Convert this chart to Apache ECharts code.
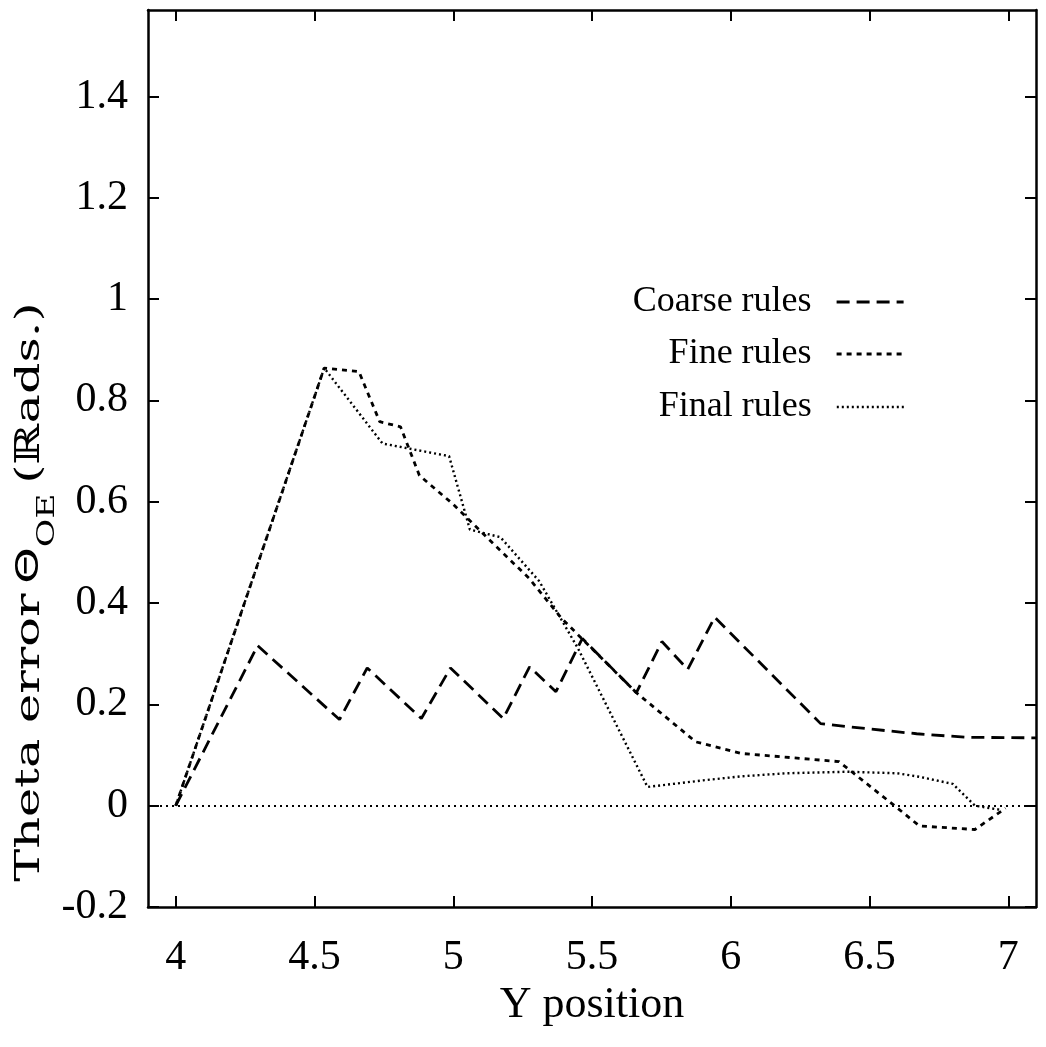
<!DOCTYPE html>
<html>
<head>
<meta charset="utf-8">
<script src="https://cdn.jsdelivr.net/npm/echarts@6/dist/echarts.min.js"></script>
<style>
html,body{margin:0;padding:0;background:#fff;}
#chart{width:1046px;height:1047px;}
</style>
</head>
<body>
<div id="chart"></div>
<script>
// ---- data ----
const seriesNames = ['Coarse rules', 'Fine rules', 'Final rules'];

const coarseX = [4.0, 4.295, 4.59, 4.69, 4.885, 4.99, 5.18, 5.275, 5.37, 5.465, 5.66, 5.752, 5.845, 5.942, 6.324, 6.42, 6.67, 6.85, 7.1];
const coarseY = [0.0, 0.316, 0.17, 0.272, 0.172, 0.272, 0.172, 0.274, 0.225, 0.33, 0.223, 0.324, 0.269, 0.372, 0.162, 0.156, 0.142, 0.135, 0.134];

const fineX = [4.0, 4.535, 4.66, 4.735, 4.81, 4.878, 5.0, 5.13, 5.273, 5.39, 5.5, 5.66, 5.874, 6.04, 6.39, 6.59, 6.68, 6.88, 6.99];
const fineY = [0.0, 0.864, 0.857, 0.758, 0.748, 0.652, 0.595, 0.525, 0.449, 0.37, 0.31, 0.223, 0.126, 0.103, 0.087, 0.0, -0.04, -0.047, -0.005];

const finalX = [4.0, 4.535, 4.745, 4.985, 5.06, 5.17, 5.31, 5.45, 5.70, 5.9, 6.04, 6.2, 6.42, 6.6, 6.68, 6.8, 6.88, 6.97];
const finalY = [0.0, 0.864, 0.715, 0.69, 0.545, 0.53, 0.443, 0.31, 0.037, 0.05, 0.058, 0.064, 0.067, 0.064, 0.057, 0.043, 0.0, -0.008];

const xTicks = [4, 4.5, 5, 5.5, 6, 6.5, 7];
const yTicks = [-0.2, 0, 0.2, 0.4, 0.6, 0.8, 1, 1.2, 1.4];
const xRange = [3.9, 7.1];
const yRange = [-0.2, 1.5708];

const xTitle = 'Y position';

// ---- build ----
const zip = (xs, ys) => xs.map((x, i) => [x, ys[i]]);
const SERIF = '"Liberation Serif", "Times New Roman", serif';
const dashes = [[13, 7], [5, 5], [2, 3]];
const lineWidths = [2.8, 2.8, 2.4];
const datasets = [zip(coarseX, coarseY), zip(fineX, fineY), zip(finalX, finalY)];

const axisLineStyle = {color: '#000', width: 2.5};
function xAxisCfg(pos, showLabel) {
  return {
    type: 'value', position: pos, min: xRange[0], max: xRange[1],
    axisLine: {show: true, onZero: false, lineStyle: axisLineStyle},
    axisTick: {show: true, inside: true, length: 11, lineStyle: {color: '#000', width: 2}, customValues: xTicks},
    axisLabel: {show: showLabel, customValues: xTicks, margin: 30, color: '#000', fontFamily: SERIF, fontSize: 42},
    splitLine: {show: false}
  };
}
function yAxisCfg(pos, showLabel) {
  return {
    type: 'value', position: pos, min: yRange[0], max: yRange[1],
    axisLine: {show: true, onZero: false, lineStyle: axisLineStyle},
    axisTick: {show: true, inside: true, length: 11, lineStyle: {color: '#000', width: 2}, customValues: yTicks},
    axisLabel: {show: showLabel, customValues: yTicks, margin: 20, color: '#000', fontFamily: SERIF, fontSize: 42},
    splitLine: {show: false}
  };
}

const legendTops = [284, 336, 389];
const legends = seriesNames.map((n, i) => ({
  show: true, type: 'plain',
  data: [n], orient: 'horizontal', right: 141, top: legendTops[i], bottom: 'auto', left: 'auto',
  align: 'right', padding: 0,
  itemWidth: 67, itemHeight: 14, selectedMode: false,
  textStyle: {color: '#000', fontFamily: SERIF, fontSize: 36, padding: [0, 20, 0, 0]},
  lineStyle: {type: dashes[i], width: lineWidths[i], color: '#000'},
  itemStyle: {color: 'rgba(0,0,0,0)', borderColor: 'rgba(0,0,0,0)', borderWidth: 0, opacity: 0}
}));

const xa = xAxisCfg('bottom', true);
xa.name = xTitle;
xa.nameLocation = 'middle';
xa.nameGap = 70;
xa.nameTextStyle = {color: '#000', fontFamily: SERIF, fontSize: 44};

const option = {
  animation: false,
  backgroundColor: '#fff',
  grid: {left: 148, right: 10, top: 10, bottom: 140, containLabel: false, outerBoundsMode: 'none'},
  legend: legends,
  xAxis: [xa, xAxisCfg('top', false)],
  yAxis: [yAxisCfg('left', true), yAxisCfg('right', false)],
  graphic: [{
    type: 'text', x: 30, y: 592, rotation: Math.PI / 2, scaleX: 1.45,
    style: {
      text: '{a|Theta error}  {b|Θ}{c|OE}  {a|(ℝads.)}',
      align: 'center', verticalAlign: 'middle', fill: '#000',
      rich: {
        a: {fontFamily: '"DejaVu Serif", serif', fontSize: 34, fill: '#000', lineHeight: 60, verticalAlign: 'middle'},
        b: {fontFamily: '"DejaVu Sans", sans-serif', fontSize: 32, fill: '#000', lineHeight: 60, verticalAlign: 'middle'},
        c: {fontFamily: '"DejaVu Serif", serif', fontSize: 24, fill: '#000', lineHeight: 60, verticalAlign: 'bottom'}
      }
    }
  }],
  series: datasets.map((d, i) => {
    const s = {
      name: seriesNames[i], type: 'line', data: d, symbol: 'none', showSymbol: false,
      lineStyle: {color: '#000', width: lineWidths[i], type: dashes[i]},
      itemStyle: {color: '#000'},
      z: 3 + i
    };
    if (i === 2) {
      s.markLine = {
        silent: true, symbol: 'none', label: {show: false},
        lineStyle: {color: '#000', width: 2, type: [2, 4]},
        data: [{yAxis: 0}]
      };
    }
    return s;
  })
};

const chart = echarts.init(document.getElementById('chart'), null, {renderer: 'canvas'});
chart.setOption(option);
</script>
</body>
</html>
